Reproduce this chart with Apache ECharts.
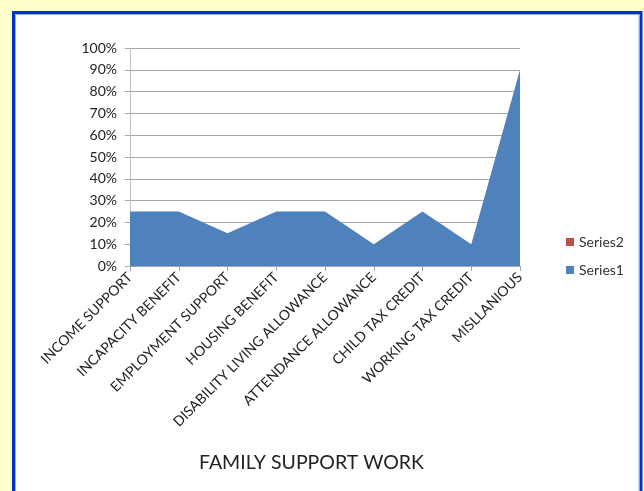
<!DOCTYPE html>
<html><head><meta charset="utf-8">
<script src="https://cdn.jsdelivr.net/npm/echarts@6/dist/echarts.min.js"></script>
<style>html,body{margin:0;padding:0;background:#FFFFCC;}#c{width:644px;height:491px;}</style>
</head><body><div id="c"></div>
<script>
var categories = ['INCOME SUPPORT','INCAPACITY BENEFIT','EMPLOYMENT SUPPORT','HOUSING BENEFIT','DISABILITY LIVING ALLOWANCE','ATTENDANCE ALLOWANCE','CHILD TAX CREDIT','WORKING TAX CREDIT','MISLLANIOUS'];
var series1 = [0.25,0.25,0.15,0.25,0.25,0.10,0.25,0.10,0.90];
var series2 = [null,null,null,null,null,null,null,null,null];
var titleText = 'FAMILY SUPPORT WORK';
var chart = echarts.init(document.getElementById('c'));
var font = 'Lato, "Open Sans", sans-serif';
chart.setOption({
  backgroundColor: '#FFFFCC',
  animation: false,
  graphic: [
    {type:'rect', z:-10, shape:{x:13.5,y:12.5,width:627.5,height:490}, style:{fill:'#ffffff', stroke:'#0033CC', lineWidth:3}},
    {type:'rect', z:-9, shape:{x:15.5,y:14.5,width:623.5,height:490}, style:{fill:'none', stroke:'#9AAAE8', lineWidth:1}}
  ],
  title: {text: titleText, left: 194, top: 448, textStyle:{fontFamily:font, fontSize:19.5, fontWeight:'normal', color:'#222'}},
  legend: {orient:'vertical', left: 561, top: 230, itemWidth:8, itemHeight:8, itemGap:14, icon:'rect',
    data:['Series2','Series1'], textStyle:{fontFamily:font, fontSize:14, color:'#333', padding:[0,0,0,0]}},
  grid: {left:130, right:124, top:48, bottom:225},
  xAxis: {type:'category', data:categories, boundaryGap:false,
    axisLine:{lineStyle:{color:'#A6A6A6'}}, axisTick:{length:5, lineStyle:{color:'#A6A6A6'}},
    axisLabel:{rotate:45, interval:0, margin:9, fontFamily:font, fontSize:14, color:'#222'}},
  yAxis: {type:'value', min:0, max:1, interval:0.1,
    axisLine:{show:true, lineStyle:{color:'#BFBFBF'}}, axisTick:{show:true, length:5, lineStyle:{color:'#A6A6A6'}},
    splitLine:{lineStyle:{color:'#A6A6A6'}},
    axisLabel:{margin:13, fontFamily:font, fontSize:14, color:'#222', formatter:function(v){return Math.round(v*100)+'%';}}},
  series: [
    {name:'Series1', type:'line', data:series1, showSymbol:false, symbol:'none', lineStyle:{width:0}, areaStyle:{color:'#4F81BD', opacity:1}, itemStyle:{color:'#4F81BD'}},
    {name:'Series2', type:'line', data:series2, showSymbol:false, symbol:'none', lineStyle:{width:0}, areaStyle:{color:'#C0504D', opacity:1}, itemStyle:{color:'#C0504D'}}
  ]
});
</script></body></html>
